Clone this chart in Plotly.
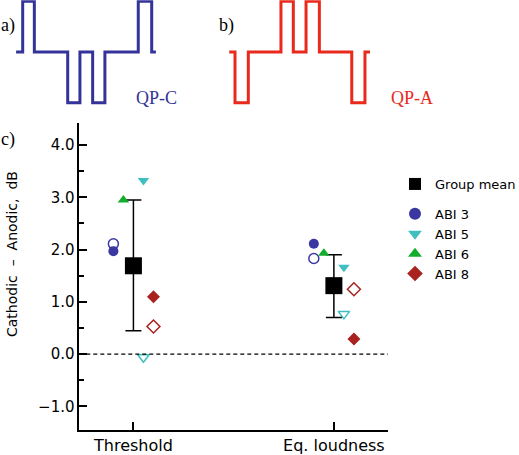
import plotly.graph_objects as go

W_VIEW, H = 519, 455
W = 560  # figure a little wider than the window; the viewport shows 0..519

# ---------------- data ----------------
categories = ["Threshold", "Eq. loudness"]
cat_pos = [1, 2]

group_mean = [1.69, 1.31]
group_hi = [2.95, 1.90]
group_lo = [0.45, 0.70]

abi_names = ["ABI 3", "ABI 5", "ABI 6", "ABI 8"]
abi_offsets = [-0.10, 0.05, -0.05, 0.10]
abi_colors = ["#3a37a0", "#3fbfbf", "#14ad2c", "#a8221f"]
abi_symbols = ["circle", "triangle-down", "triangle-up", "diamond"]

# filled markers: [Threshold, Eq. loudness]
abi3_filled = [1.97, 2.11]
abi5_filled = [3.32, 1.66]
abi6_filled = [2.95, 1.93]
abi8_filled = [1.10, 0.29]
# open markers
abi3_open = [2.11, 1.83]
abi5_open = [-0.06, 0.77]
abi6_open = [None, None]
abi8_open = [0.53, 1.24]

filled_vals = [abi3_filled, abi5_filled, abi6_filled, abi8_filled]
open_vals = [abi3_open, abi5_open, abi6_open, abi8_open]

y_ticks = [-1.0, 0.0, 1.0, 2.0, 3.0, 4.0]

# waveforms (time in pulse-width units, amplitude)
qpc_t = [-0.55, 0, 0, 0.97, 0.97, 3.75, 3.75, 4.77, 4.77, 5.83, 5.83, 6.85, 6.85, 9.63, 9.63, 10.75, 10.75, 11.1]
qpc_a = [0, 0, 1, 1, 0, 0, -1, -1, 0, 0, -1, -1, 0, 0, 1, 1, 0, 0]
qpa_t = [-0.48, 0, 0, 1.11, 1.11, 3.83, 3.83, 4.86, 4.86, 5.92, 5.92, 7.03, 7.03, 9.73, 9.73, 10.83, 10.83, 11.25]
qpa_a = [0, 0, -1, -1, 0, 0, 1, 1, 0, 0, 1, 1, 0, 0, -1, -1, 0, 0]

# ---------------- figure ----------------
fig = go.Figure()

FONT = "DejaVu Sans"
SERIF = "Liberation Serif"

# waveforms
fig.add_trace(go.Scatter(x=qpc_t, y=qpc_a, mode="lines", xaxis="x2", yaxis="y2",
                         line=dict(color="#333399", width=3), showlegend=False, hoverinfo="skip"))
fig.add_trace(go.Scatter(x=qpa_t, y=qpa_a, mode="lines", xaxis="x3", yaxis="y3",
                         line=dict(color="#e8291c", width=3), showlegend=False, hoverinfo="skip"))

# open markers (drawn first)
for name, off, col, sym, vals in zip(abi_names, abi_offsets, abi_colors, abi_symbols, open_vals):
    fig.add_trace(go.Scatter(
        x=[p + off for p in cat_pos], y=vals, mode="markers", showlegend=False,
        marker=dict(symbol=sym + "-open", size=10, color=col, line=dict(color=col, width=1.5)),
        legendgroup="b", cliponaxis=False))

# group mean
fig.add_trace(go.Scatter(
    x=cat_pos, y=group_mean, mode="markers", name="Group mean",
    marker=dict(symbol="square", size=17, color="black"),
    error_y=dict(type="data", symmetric=False,
                 array=[h - m for h, m in zip(group_hi, group_mean)],
                 arrayminus=[m - l for m, l in zip(group_mean, group_lo)],
                 color="black", thickness=1.5, width=8),
    legendgroup="a", cliponaxis=False))

# filled markers
for name, off, col, sym, vals in zip(abi_names, abi_offsets, abi_colors, abi_symbols, filled_vals):
    fig.add_trace(go.Scatter(
        x=[p + off for p in cat_pos], y=vals, mode="markers", name=name,
        marker=dict(symbol=sym, size=10, color=col, line=dict(width=0)),
        legendgroup="b", cliponaxis=False))

# zero line
fig.add_shape(type="line", xref="x domain", yref="y", x0=0, x1=1, y0=0, y1=0,
              line=dict(color="black", width=1.2, dash="4px,3px"))

def px_x(p):
    return p / W

def px_y(p):
    return 1 - p / H

fig.update_layout(
    width=W, height=H,
    margin=dict(l=0, r=0, t=0, b=0, autoexpand=False),
    paper_bgcolor="white", plot_bgcolor="white",
    font=dict(family=FONT, color="black", size=15),
    xaxis=dict(domain=[px_x(79.3), px_x(388)], range=[0.73, 2.27],
               tickvals=cat_pos, ticktext=categories, ticks="inside", ticklen=8,
               tickwidth=1.5, tickcolor="black", showline=True, linecolor="black",
               linewidth=1.5, showgrid=False, zeroline=False,
               tickfont=dict(family=FONT, size=16), automargin=False),
    yaxis=dict(domain=[px_y(430), px_y(123)], range=[-1.45, 4.42],
               tickvals=y_ticks, tickformat=".1f", ticks="inside", ticklen=8,
               tickwidth=1.5, tickcolor="black", showline=True, linecolor="black",
               linewidth=1.5, showgrid=False, zeroline=False,
               minor=dict(dtick=0.5, ticks="inside", ticklen=5, tickwidth=1.5,
                          tickcolor="black", showgrid=False),
               tickfont=dict(family=FONT, size=15), automargin=False),
    xaxis2=dict(domain=[px_x(10.7), px_x(166.7)], range=[-1, 12], visible=False, anchor="y2"),
    yaxis2=dict(domain=[px_y(105.3), px_y(0.2)], range=[-1.05, 1.02], visible=False, anchor="x2"),
    xaxis3=dict(domain=[px_x(223), px_x(379)], range=[-1, 12], visible=False, anchor="y3"),
    yaxis3=dict(domain=[px_y(105.3), px_y(0.2)], range=[-1.05, 1.02], visible=False, anchor="x3"),
    legend=dict(x=px_x(395), y=px_y(169), xanchor="left", yanchor="top",
                font=dict(family=FONT, size=13), itemsizing="constant",
                tracegroupgap=10, bgcolor="rgba(0,0,0,0)"),
    showlegend=True,
)

annots = [
    dict(text="Cathodic  \u2013  Anodic,  dB", x=px_x(12), y=px_y(254), textangle=-90,
         font=dict(family=FONT, size=14)),
    dict(text="a)", x=px_x(-1), y=px_y(25), xanchor="left", font=dict(family=SERIF, size=18)),
    dict(text="b)", x=px_x(217), y=px_y(25), xanchor="left", font=dict(family=SERIF, size=18)),
    dict(text="c)", x=px_x(-1), y=px_y(139), xanchor="left", font=dict(family=SERIF, size=18)),
    dict(text="QP-C", x=px_x(134), y=px_y(98), xanchor="left",
         font=dict(family=SERIF, size=18, color="#333399")),
    dict(text="QP-A", x=px_x(389), y=px_y(98), xanchor="left",
         font=dict(family=SERIF, size=18, color="#e8291c")),
]
for a in annots:
    a.setdefault("xanchor", "center")
    fig.add_annotation(xref="paper", yref="paper", showarrow=False, yanchor="middle", **a)

fig.write_html("out.html", config={"displayModeBar": False},
               post_script="document.body.style.margin='0px';document.body.style.overflow='hidden';")
